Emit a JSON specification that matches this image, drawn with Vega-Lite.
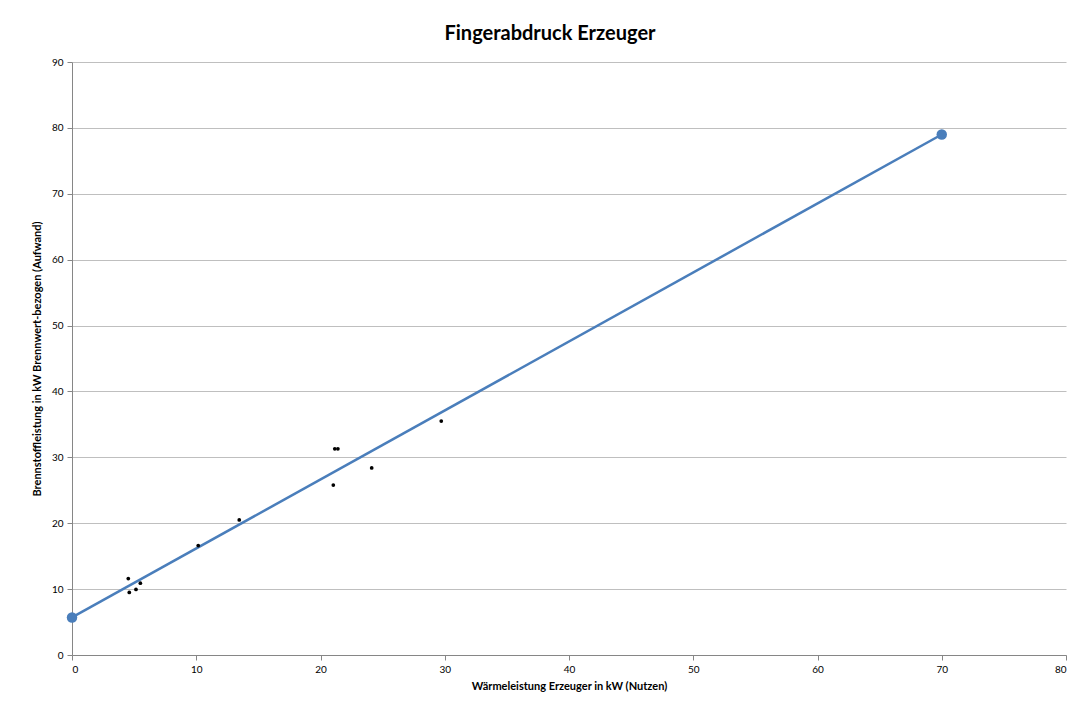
{
  "$schema": "https://vega.github.io/schema/vega-lite/v6.json",
  "autosize": "none",
  "width": 994,
  "height": 593,
  "padding": {"left": 72, "top": 62, "right": 6, "bottom": 49},
  "background": "white",
  "title": {
    "text": "Fingerabdruck Erzeuger",
    "font": "Lato",
    "fontSize": 20,
    "fontWeight": "bold",
    "color": "#000000",
    "anchor": "middle",
    "offset": 13,
    "dx": -19
  },
  "datasets": {
    "messung": [
      {"nutzen": 4.53, "aufwand": 11.6},
      {"nutzen": 4.61, "aufwand": 9.5},
      {"nutzen": 5.15, "aufwand": 9.95},
      {"nutzen": 5.5, "aufwand": 10.9},
      {"nutzen": 10.16, "aufwand": 16.6},
      {"nutzen": 13.46, "aufwand": 20.5},
      {"nutzen": 21.15, "aufwand": 31.3},
      {"nutzen": 21.4, "aufwand": 31.3},
      {"nutzen": 21.03, "aufwand": 25.8},
      {"nutzen": 24.12, "aufwand": 28.4},
      {"nutzen": 29.72, "aufwand": 35.5}
    ],
    "kennlinie": [
      {"nutzen": 0, "aufwand": 5.7},
      {"nutzen": 70, "aufwand": 79.0}
    ]
  },
  "config": {
    "view": {"stroke": null},
    "font": "Lato",
    "axis": {
      "labelFont": "Lato",
      "labelFontSize": 10,
      "labelColor": "#000000",
      "titleFont": "Lato",
      "titleFontSize": 11,
      "titleFontWeight": "bold",
      "titleColor": "#000000",
      "domainColor": "#868686",
      "tickColor": "#868686",
      "tickSize": 5,
      "gridColor": "#bfbfbf",
      "gridWidth": 1
    }
  },
  "layer": [
    {
      "data": {"name": "kennlinie"},
      "mark": {"type": "line", "color": "#4a7ebb", "strokeWidth": 2.5, "point": {"filled": true, "size": 110, "color": "#4a7ebb"}},
      "encoding": {
        "x": {
          "field": "nutzen", "type": "quantitative",
          "scale": {"domain": [0, 80], "nice": false},
          "axis": {"values": [0,10,20,30,40,50,60,70,80], "grid": false, "title": "Wärmeleistung Erzeuger in kW  (Nutzen)", "titlePadding": 6, "labelPadding": 4}
        },
        "y": {
          "field": "aufwand", "type": "quantitative",
          "scale": {"domain": [0, 90], "nice": false},
          "axis": {"values": [0,10,20,30,40,50,60,70,80,90], "grid": true, "title": "Brennstoffleistung in kW Brennwert-bezogen (Aufwand)", "titlePadding": 9, "labelPadding": 4}
        }
      }
    },
    {
      "data": {"name": "messung"},
      "mark": {"type": "point", "filled": true, "color": "#000000", "size": 14, "opacity": 1},
      "encoding": {
        "x": {"field": "nutzen", "type": "quantitative"},
        "y": {"field": "aufwand", "type": "quantitative"}
      }
    }
  ]
}
